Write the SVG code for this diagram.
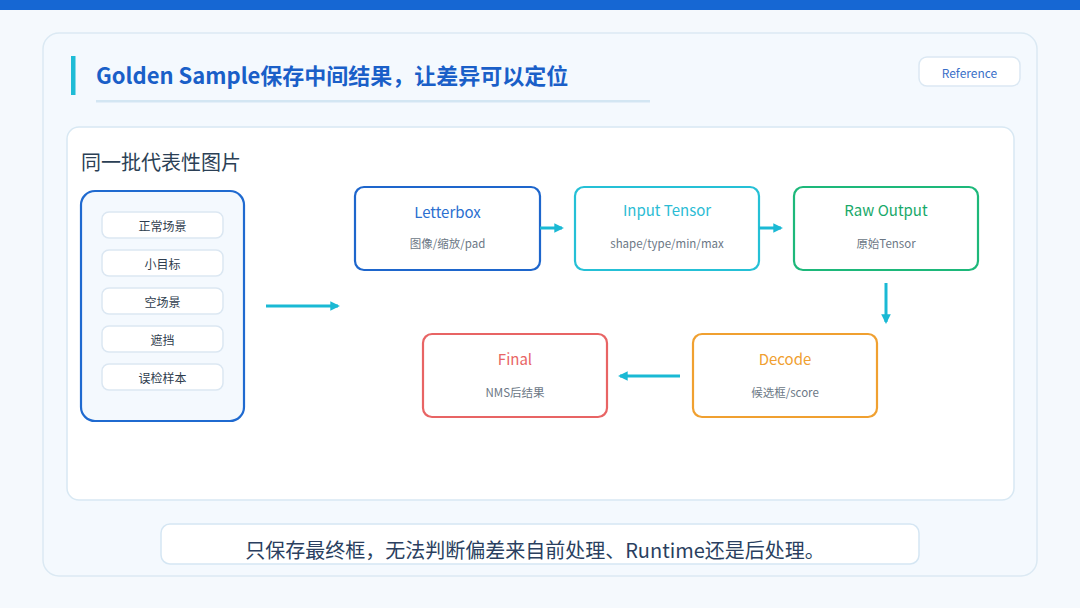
<svg xmlns="http://www.w3.org/2000/svg" width="1080" height="608" viewBox="0 0 1080 608">
<defs>
<style>
.cn{font-family:"Noto Sans CJK SC","Noto Sans",sans-serif}
.item rect{fill:#fff;stroke:#dbe7f2;stroke-width:1.5}
.item text{font-size:12px;fill:#2f3d4e;text-anchor:middle}
.node rect{fill:#fff;stroke-width:2.2}
.node .t{font-size:15px;text-anchor:middle}
.node .s{font-size:11.5px;fill:#6b7785;text-anchor:middle}
.conn line{stroke:#1ab9d4;stroke-width:3}
</style>
<marker id="ah" viewBox="0 0 10 10" refX="8" refY="5" markerWidth="3.2" markerHeight="3.2" orient="auto" markerUnits="strokeWidth">
<path d="M0,0 L10,5 L0,10 z" fill="#1ab9d4"/>
</marker>
</defs>
<rect x="0" y="0" width="1080" height="608" fill="#f5f9fd"/>
<rect x="0" y="0" width="1080" height="10" fill="#1667d3"/>
<rect x="43" y="33" width="994" height="543" rx="16" fill="#f4f9fe" stroke="#dbe9f3" stroke-width="1.5"/>
<g id="title">
<rect x="71" y="56" width="4.5" height="39" fill="#1fbcd6"/>
<text x="96" y="84" class="cn" font-size="22" font-weight="bold" fill="#1a5fc8">Golden Sample保存中间结果，让差异可以定位</text>
<rect x="96" y="100" width="554" height="2.5" fill="#d3e6f3"/>
</g>
<g id="reference">
<rect x="919" y="57" width="101" height="29" rx="8" fill="#fff" stroke="#dbe8f3" stroke-width="1.5"/>
<text x="969.5" y="78" class="cn" font-size="12" fill="#3a6fc8" text-anchor="middle">Reference</text>
</g>
<rect x="67" y="127" width="947" height="373" rx="12" fill="#fff" stroke="#d8e8f3" stroke-width="1.5"/>
<text x="81" y="170" class="cn" font-size="20" fill="#2b3f55">同一批代表性图片</text>
<g id="images">
<rect x="81" y="191" width="163" height="230" rx="14" fill="#f4f9fe" stroke="#1f6ad0" stroke-width="2.2"/>
<g class="item cn"><rect x="102" y="212" width="121" height="26" rx="7"/><text x="162.5" y="230.5">正常场景</text></g>
<g class="item cn"><rect x="102" y="250" width="121" height="26" rx="7"/><text x="162.5" y="268.5">小目标</text></g>
<g class="item cn"><rect x="102" y="288" width="121" height="26" rx="7"/><text x="162.5" y="306.5">空场景</text></g>
<g class="item cn"><rect x="102" y="326" width="121" height="26" rx="7"/><text x="162.5" y="344.5">遮挡</text></g>
<g class="item cn"><rect x="102" y="364" width="121" height="26" rx="7"/><text x="162.5" y="382.5">误检样本</text></g>
</g>
<g id="letterbox" class="node cn">
<rect x="355" y="187" width="185" height="83" rx="9" stroke="#1e66cc"/>
<text class="t" x="447.5" y="218" fill="#2b6fd0">Letterbox</text>
<text class="s" x="447.5" y="248">图像/缩放/pad</text>
</g>
<g id="input" class="node cn">
<rect x="575" y="187" width="184" height="83" rx="9" stroke="#25c0d6"/>
<text class="t" x="667" y="216" fill="#2bbcd4">Input Tensor</text>
<text class="s" x="667" y="248">shape/type/min/max</text>
</g>
<g id="raw" class="node cn">
<rect x="794" y="187" width="184" height="83" rx="9" stroke="#1db87a"/>
<text class="t" x="886" y="216" fill="#19a96a">Raw Output</text>
<text class="s" x="886" y="248">原始Tensor</text>
</g>
<g id="decode" class="node cn">
<rect x="693" y="334" width="184" height="83" rx="9" stroke="#f0a030"/>
<text class="t" x="785" y="365" fill="#f0a030">Decode</text>
<text class="s" x="785" y="397">候选框/score</text>
</g>
<g id="final" class="node cn">
<rect x="423" y="334" width="184" height="83" rx="9" stroke="#e86464"/>
<text class="t" x="515" y="365" fill="#e86464">Final</text>
<text class="s" x="515" y="397">NMS后结果</text>
</g>
<g id="connectors" class="conn">
<line x1="266" y1="306" x2="338" y2="306" marker-end="url(#ah)"/>
<line x1="540" y1="228" x2="562" y2="228" marker-end="url(#ah)"/>
<line x1="759" y1="228" x2="781" y2="228" marker-end="url(#ah)"/>
<line x1="886" y1="283" x2="886" y2="322" marker-end="url(#ah)"/>
<line x1="680" y1="376" x2="620" y2="376" marker-end="url(#ah)"/>
</g>
<g id="note">
<rect x="161" y="524" width="758" height="40" rx="9" fill="#fff" stroke="#d5e6f3" stroke-width="1.5"/>
<text x="535" y="558" class="cn" font-size="20" fill="#2a3f60" text-anchor="middle">只保存最终框，无法判断偏差来自前处理、Runtime还是后处理。</text>
</g>
</svg>
